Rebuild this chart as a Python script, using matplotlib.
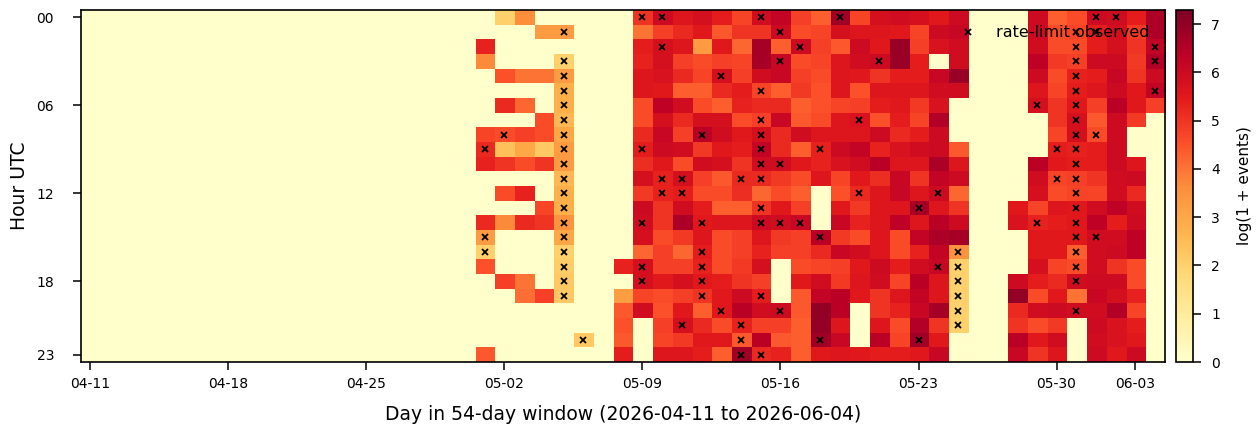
import numpy as np
import matplotlib
matplotlib.use('Agg')
import matplotlib.pyplot as plt

# 55 days (2026-04-11 .. 2026-06-04) x 24 hours, values are log(1 + events)
n_days = 55
first_day = 20  # everything before 05-01 is empty
hour_ticks = [0, 6, 12, 18, 23]
hour_labels = ['00', '06', '12', '18', '23']
day_ticks = [0, 7, 14, 21, 28, 35, 42, 49, 53]
day_labels = ['04-11', '04-18', '04-25', '05-02', '05-09', '05-16', '05-23', '05-30', '06-03']

# one row per hour, columns = day 20 .. day 54
active = [
    [0, 2.0, 3.6, 0, 0, 0, 0, 0, 5.0, 6.0, 5.6, 5.8, 5.4, 4.7, 5.9, 6.2, 4.8, 4.3, 6.8, 4.7, 5.8, 5.9, 5.8, 5.5, 6.0, 0, 0, 0, 6.0, 4.3, 4.6, 6.0, 5.9, 5.4, 6.6],
    [0, 0, 0, 3.3, 3.3, 0, 0, 0, 4.0, 4.8, 5.2, 5.5, 4.4, 5.0, 5.0, 6.0, 4.6, 4.7, 5.8, 5.6, 5.6, 5.5, 4.7, 6.0, 6.1, 0, 0, 0, 6.0, 4.6, 4.7, 5.4, 5.8, 4.9, 6.6],
    [5.3, 0, 0, 0, 0, 0, 0, 0, 5.4, 5.8, 5.6, 3.3, 5.5, 4.2, 6.7, 4.3, 6.0, 4.8, 4.4, 6.0, 5.5, 6.9, 4.8, 5.7, 5.9, 0, 0, 0, 5.9, 4.6, 4.6, 5.4, 5.8, 5.0, 6.2],
    [3.7, 0, 0, 0, 2.0, 0, 0, 0, 5.3, 5.8, 4.8, 4.6, 4.8, 4.7, 6.7, 6.1, 4.6, 4.7, 5.6, 5.9, 6.0, 6.9, 5.4, 0, 5.9, 0, 0, 0, 6.3, 4.9, 4.8, 6.0, 6.0, 4.9, 6.5],
    [0, 4.5, 4.0, 4.0, 3.3, 0, 0, 0, 5.6, 5.7, 5.2, 4.7, 5.8, 4.8, 5.9, 6.1, 4.8, 4.6, 5.6, 5.5, 5.0, 5.4, 5.4, 6.1, 6.9, 0, 0, 0, 6.0, 4.6, 5.3, 5.4, 6.1, 5.0, 6.0],
    [0, 0, 0, 0, 2.8, 0, 0, 0, 5.6, 5.5, 4.3, 4.3, 5.2, 5.4, 4.7, 4.3, 4.9, 4.5, 5.6, 4.5, 5.6, 5.6, 5.6, 5.9, 5.9, 0, 0, 0, 5.6, 4.7, 5.4, 5.6, 6.0, 5.5, 6.2],
    [0, 5.2, 4.2, 0, 2.8, 0, 0, 0, 4.6, 6.3, 5.9, 4.6, 4.3, 5.3, 5.2, 5.2, 4.3, 4.5, 4.7, 4.8, 5.4, 5.5, 4.9, 5.7, 0, 0, 0, 0, 5.8, 5.0, 5.5, 4.8, 6.4, 5.5, 4.8],
    [0, 0, 0, 4.6, 2.6, 0, 0, 0, 4.6, 5.8, 5.2, 5.8, 5.8, 4.6, 4.8, 6.1, 4.4, 4.6, 5.6, 5.7, 4.5, 5.4, 4.7, 6.5, 0, 0, 0, 0, 0, 5.0, 5.8, 4.4, 6.0, 4.9, 0],
    [4.7, 4.6, 4.8, 4.6, 3.0, 0, 0, 0, 5.2, 6.1, 4.8, 6.4, 5.9, 5.5, 5.8, 5.2, 5.9, 5.6, 5.6, 5.6, 6.0, 5.2, 5.4, 6.0, 0, 0, 0, 0, 0, 4.7, 5.8, 4.6, 6.0, 0, 0],
    [5.2, 2.4, 3.0, 2.2, 3.3, 0, 0, 0, 5.4, 6.0, 5.9, 4.9, 5.5, 5.4, 6.2, 5.2, 4.3, 5.3, 6.0, 6.2, 5.3, 5.7, 5.9, 6.0, 4.4, 0, 0, 0, 0, 5.4, 5.3, 5.4, 6.0, 0, 0],
    [5.3, 5.0, 4.6, 5.0, 3.3, 0, 0, 0, 5.1, 5.5, 4.6, 5.9, 5.8, 5.0, 5.9, 5.9, 5.5, 5.3, 5.7, 5.9, 6.4, 5.6, 5.6, 6.6, 5.6, 0, 0, 0, 6.4, 5.5, 5.4, 5.4, 6.0, 5.6, 0],
    [0, 0, 0, 0, 2.6, 0, 0, 0, 5.8, 5.3, 5.8, 4.8, 4.4, 5.2, 5.2, 4.9, 4.6, 5.6, 4.7, 5.5, 5.1, 6.1, 5.0, 6.2, 6.0, 0, 0, 0, 5.9, 4.7, 4.8, 5.0, 5.9, 6.0, 0],
    [0, 4.6, 5.3, 0, 2.8, 0, 0, 0, 4.9, 5.3, 5.4, 4.6, 4.6, 5.1, 4.2, 4.6, 4.3, 0, 4.5, 5.2, 5.6, 6.1, 5.6, 6.0, 4.2, 0, 0, 0, 5.8, 4.6, 4.7, 4.7, 5.9, 5.2, 0],
    [0, 0, 0, 4.7, 2.8, 0, 0, 0, 6.0, 5.0, 5.9, 5.4, 4.3, 4.3, 5.0, 5.5, 4.8, 0, 5.5, 4.9, 5.6, 5.6, 6.7, 5.6, 5.0, 0, 0, 5.5, 4.7, 5.6, 5.5, 5.9, 6.3, 5.9, 0],
    [5.2, 3.7, 5.2, 5.0, 3.5, 0, 0, 0, 5.9, 5.0, 6.6, 5.5, 5.6, 5.6, 6.0, 5.9, 6.1, 0, 6.1, 5.3, 5.6, 6.3, 5.6, 6.4, 6.0, 0, 0, 5.7, 5.3, 5.4, 5.5, 6.3, 5.4, 6.0, 0],
    [3.3, 0, 0, 0, 3.0, 0, 0, 0, 5.8, 4.6, 4.9, 5.6, 4.6, 4.8, 5.6, 4.9, 4.8, 6.4, 4.9, 4.6, 5.6, 4.6, 6.2, 6.6, 6.7, 0, 0, 0, 5.5, 5.5, 5.5, 5.9, 5.9, 6.3, 0],
    [2.0, 0, 0, 0, 2.0, 0, 0, 0, 4.2, 4.8, 4.2, 5.4, 4.6, 4.8, 5.3, 4.8, 4.8, 5.2, 6.1, 5.9, 5.6, 4.6, 5.3, 6.2, 3.5, 0, 0, 0, 5.5, 5.5, 4.3, 5.9, 6.0, 6.3, 0],
    [4.5, 0, 0, 0, 2.1, 0, 0, 5.3, 5.8, 4.8, 4.8, 5.3, 4.6, 4.9, 5.8, 0, 4.6, 4.7, 4.8, 5.5, 6.0, 5.4, 5.9, 6.1, 2.0, 0, 0, 0, 5.8, 4.7, 4.6, 5.9, 5.0, 4.6, 0],
    [0, 4.8, 4.0, 0, 2.2, 0, 0, 0, 5.8, 5.5, 5.8, 5.5, 5.4, 5.0, 4.8, 0, 5.5, 5.9, 4.9, 5.6, 5.9, 4.7, 6.4, 5.6, 2.0, 0, 0, 6.0, 5.4, 5.2, 5.9, 6.0, 6.0, 4.6, 0],
    [0, 0, 4.1, 4.8, 2.2, 0, 0, 3.2, 4.7, 4.6, 4.8, 5.0, 5.5, 6.0, 5.4, 0, 4.4, 6.2, 6.4, 5.5, 5.0, 5.6, 6.2, 5.6, 2.0, 0, 0, 7.0, 4.6, 5.5, 4.0, 6.1, 5.8, 5.3, 0],
    [0, 0, 0, 0, 0, 0, 0, 4.4, 5.9, 4.5, 5.5, 4.3, 5.5, 6.4, 5.9, 6.0, 4.4, 7.0, 6.4, 0, 5.0, 5.3, 6.1, 6.7, 2.0, 0, 0, 5.2, 5.9, 6.0, 5.9, 5.9, 6.5, 4.7, 0],
    [0, 0, 0, 0, 0, 0, 0, 4.5, 0, 4.8, 5.8, 5.2, 4.6, 5.3, 4.8, 4.8, 4.3, 7.0, 5.6, 0, 5.6, 4.6, 6.5, 5.0, 2.0, 0, 0, 5.0, 4.6, 4.9, 0, 6.0, 5.7, 5.4, 0],
    [0, 0, 0, 0, 0, 2.2, 0, 4.4, 0, 4.7, 4.9, 5.5, 5.5, 4.4, 6.4, 4.4, 4.3, 6.8, 6.1, 0, 6.4, 4.7, 6.8, 5.5, 0, 0, 0, 6.4, 5.5, 5.9, 0, 5.9, 5.7, 5.5, 0],
    [4.4, 0, 0, 0, 0, 0, 0, 5.4, 0, 5.6, 5.6, 5.4, 4.3, 6.8, 5.2, 5.3, 4.3, 5.5, 5.6, 5.5, 5.4, 5.4, 5.5, 6.1, 0, 0, 0, 6.1, 5.0, 5.6, 0, 6.0, 5.5, 6.0, 0],
]

# hour -> days where a rate limit was seen
rate_limited = {
    0: [28, 29, 34, 38, 51, 52],
    1: [24, 35, 50, 51],
    2: [29, 36, 50, 54],
    3: [24, 35, 40, 50, 54],
    4: [24, 32, 50],
    5: [24, 34, 50, 54],
    6: [24, 48, 50],
    7: [24, 34, 39, 50],
    8: [21, 24, 31, 34, 50, 51],
    9: [20, 24, 28, 34, 37, 49, 50],
    10: [24, 34, 35, 50],
    11: [24, 29, 30, 33, 34, 49, 50],
    12: [24, 29, 30, 39, 43, 50],
    13: [24, 34, 42, 50],
    14: [24, 28, 31, 34, 35, 36, 48, 50],
    15: [20, 24, 37, 50, 51],
    16: [20, 24, 31, 44, 50],
    17: [24, 28, 31, 43, 44, 50],
    18: [24, 28, 31, 44, 50],
    19: [24, 31, 34, 44],
    20: [32, 35, 44, 50],
    21: [30, 33, 44],
    22: [25, 33, 37, 42],
    23: [33, 34],
}

grid = np.zeros((24, n_days))
grid[:, first_day:] = np.array(active)

W, H = 1256, 429
fig = plt.figure(figsize=(W / 100, H / 100), dpi=100)
ax = fig.add_axes([80.5 / W, 67 / H, 1084.5 / W, 352 / H])

im = ax.imshow(grid, aspect='auto', cmap='YlOrRd', vmin=0, vmax=7.29,
               interpolation='nearest')

xs = [d for h, days in rate_limited.items() for d in days]
ys = [h for h, days in rate_limited.items() for d in days]
ax.plot(xs, ys, linestyle='none', marker='x', color='black', markersize=4,
        markeredgewidth=1.3, label='rate-limit observed')

ax.set_xlim(-0.5, n_days - 0.5)
ax.set_ylim(23.5, -0.5)
ax.set_xticks(day_ticks)
ax.set_xticklabels(day_labels, fontsize=10)
ax.set_yticks(hour_ticks)
ax.set_yticklabels(hour_labels, fontsize=10)
ax.tick_params(axis='x', length=6, width=1.1, pad=4.5)
ax.tick_params(axis='y', length=6, width=1.1, pad=13)
ax.set_xlabel('Day in 54-day window (2026-04-11 to 2026-06-04)', fontsize=13.5,
              labelpad=10.5)
ax.set_ylabel('Hour UTC', fontsize=13.5, labelpad=5)
for s in ax.spines.values():
    s.set_linewidth(1.2)

ax.legend(loc='upper right', frameon=False, fontsize=11.5, borderaxespad=0.55)

cax = fig.add_axes([1176 / W, 67 / H, 17 / W, 352 / H])
cb = fig.colorbar(im, cax=cax)
cb.set_ticks(range(8))
cb.ax.tick_params(labelsize=10, length=6, width=1.1, pad=7)
cb.set_label('log(1 + events)', fontsize=11, labelpad=12)
cb.outline.set_linewidth(1.2)

fig.savefig('out.png', dpi=100)
